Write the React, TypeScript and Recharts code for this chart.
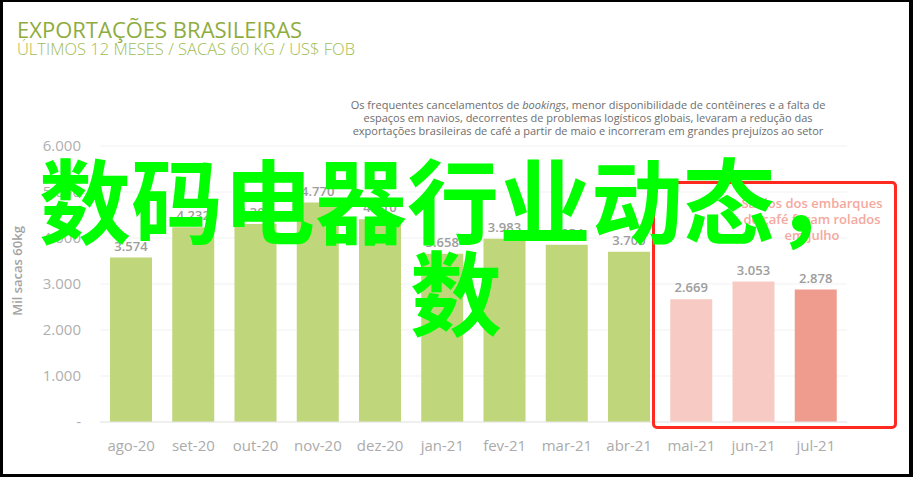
import { BarChart, Bar, XAxis, YAxis, CartesianGrid, Cell, LabelList } from 'recharts'

const MONTHS = ['ago-20', 'set-20', 'out-20', 'nov-20', 'dez-20', 'jan-21', 'fev-21', 'mar-21', 'abr-21', 'mai-21', 'jun-21', 'jul-21']
const VOLUMES = [3574, 4232, 4302, 4770, 4410, 3658, 3983, 3854, 3700, 2669, 3053, 2878]
const Y_TICKS = [0, 1000, 2000, 3000, 4000, 5000, 6000]

const TITLE = 'EXPORTAÇÕES BRASILEIRAS'
const SUBTITLE = 'ÚLTIMOS 12 MESES / SACAS 60 KG / US$ FOB'
const Y_LABEL = 'Mil sacas 60kg'
const OVERLAY_LINES = ['数码电器行业动态，', '数']

const GREEN = '#c0d67b'
const PINK = '#f7cbc3'
const SALMON = '#ef9b8d'
const barColor = (i: number) => (i === 11 ? SALMON : i >= 9 ? PINK : GREEN)

const fmt = (v: number) => (v === 0 ? '-' : (v / 1000).toFixed(3))

const data = MONTHS.map((m, i) => ({ month: m, value: VOLUMES[i] }))

const font = '"Open Sans", "Noto Sans", sans-serif'

export default function App() {
  return (
    <div style={{ position: 'absolute', left: 0, top: 0, width: 913, height: 477, background: '#000', fontFamily: font }}>
      <div style={{ position: 'absolute', left: 3, top: 2, width: 906, height: 472, background: '#fff' }} />

      <div style={{ position: 'absolute', left: 17, top: 18, fontSize: 22, lineHeight: '22px', color: '#8eac3e', whiteSpace: 'nowrap' }}>
        {TITLE}
      </div>
      <div style={{ position: 'absolute', left: 17, top: 41, fontSize: 16.5, lineHeight: '16.5px', color: '#a1bc55', fontWeight: 300, whiteSpace: 'nowrap' }}>
        {SUBTITLE}
      </div>

      <div style={{ position: 'absolute', left: 0, top: 0 }}>
        <BarChart width={913} height={477} data={data} margin={{ top: 146, right: 66, bottom: 25, left: 0 }}>
          <CartesianGrid vertical={false} stroke="#f1f1f1" />
          <XAxis
            dataKey="month"
            height={30}
            tickLine={false}
            tickSize={0}
            tickMargin={18}
            axisLine={{ stroke: '#e6e6e6' }}
            tick={{ fill: '#ababab', fontSize: 15, fontFamily: font }}
            interval={0}
          />
          <YAxis
            width={100}
            domain={[0, 6000]}
            ticks={Y_TICKS}
            tickFormatter={fmt}
            axisLine={false}
            tickLine={false}
            tickSize={0}
            tickMargin={19}
            tick={{ fill: '#b0b0b0', fontSize: 15, fontFamily: font }}
          />
          <Bar dataKey="value" barSize={42} isAnimationActive={false}>
            {data.map((d, i) => (
              <Cell key={d.month} fill={barColor(i)} />
            ))}
            <LabelList
              dataKey="value"
              position="top"
              offset={7}
              formatter={(v: any) => fmt(Number(v))}
              style={{ fill: '#9d9d9d', fontSize: 13, fontWeight: 600, fontFamily: font }}
            />
          </Bar>
        </BarChart>
      </div>

      <div
        style={{
          position: 'absolute', left: 17, top: 271, transform: 'translate(-50%, -50%) rotate(-90deg)',
          fontSize: 13, fontWeight: 600, color: '#a3a3a3', whiteSpace: 'nowrap'
        }}
      >
        {Y_LABEL}
      </div>

      <div style={{ position: 'absolute', left: 338, top: 98, width: 500, textAlign: 'center', fontSize: 11, lineHeight: '13px', color: '#6e6e6e' }}>
        Os frequentes cancelamentos de <i>bookings</i>, menor disponibilidade de contêineres e a falta de<br />
        espaços em navios, decorrentes de problemas logísticos globais, levaram a redução das<br />
        exportações brasileiras de café a partir de maio e incorreram em grandes prejuízos ao setor
      </div>

      <div style={{ position: 'absolute', left: 652, top: 181, width: 245, height: 248, border: '3px solid #ff2a1f', borderRadius: 5, boxSizing: 'border-box' }} />

      <div style={{ position: 'absolute', left: 712, top: 195, width: 200, textAlign: 'center', fontSize: 13, lineHeight: '16px', fontWeight: 600, color: '#f4a89e' }}>
        Saldos dos embarques<br />de café foram rolados<br />em julho
      </div>

      <div
        style={{
          position: 'absolute', left: 39, top: 151, fontSize: 92, lineHeight: '92px', fontWeight: 700,
          color: '#00ff00', fontFamily: '"Noto Sans CJK SC", sans-serif', whiteSpace: 'nowrap'
        }}
      >
        {OVERLAY_LINES[0]}
      </div>
      <div
        style={{
          position: 'absolute', left: 410, top: 243, fontSize: 92, lineHeight: '92px', fontWeight: 700,
          color: '#00ff00', fontFamily: '"Noto Sans CJK SC", sans-serif', whiteSpace: 'nowrap'
        }}
      >
        {OVERLAY_LINES[1]}
      </div>
    </div>
  )
}
